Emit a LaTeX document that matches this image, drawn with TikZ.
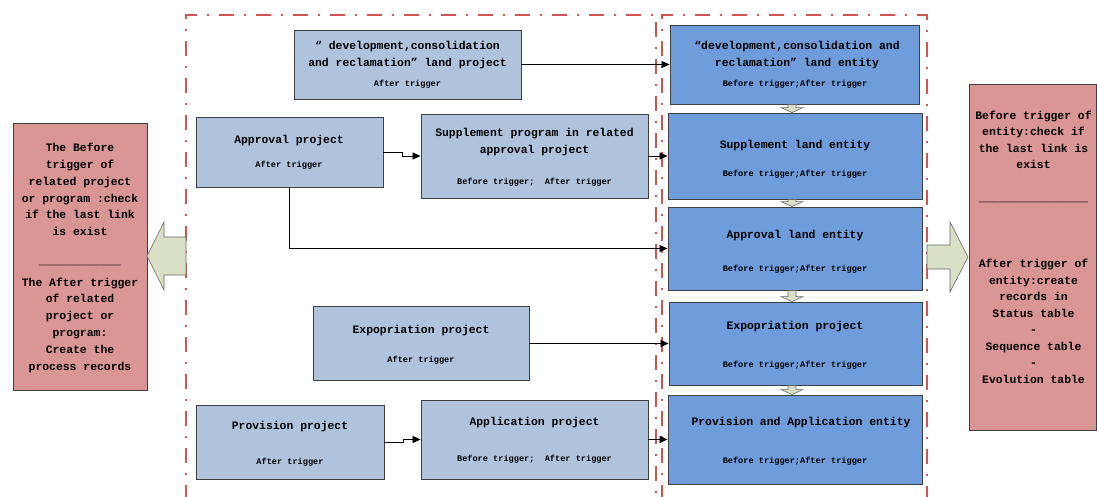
\documentclass[tikz,border=0pt]{standalone}
\usepackage{fontspec}
\setmainfont{Liberation Mono}
\usetikzlibrary{arrows.meta,calc}

\definecolor{projblue}{HTML}{B0C3DD}
\definecolor{entblue}{HTML}{6F9CDA}
\definecolor{notered}{HTML}{D99694}
\definecolor{arrowgreen}{HTML}{D8E0C6}
\definecolor{framered}{HTML}{D0544F}

\tikzset{
  projbox/.style={draw=black!75, fill=projblue, line width=0.9pt, inner sep=0pt},
  entbox/.style={draw=black!75, fill=entblue, line width=0.9pt, inner sep=0pt},
  notebox/.style={draw=black!75, fill=notered, line width=0.9pt, inner sep=0pt},
  boxtitle/.style={font=\fontsize{11.4}{16.8}\selectfont\bfseries, align=center, anchor=base, inner sep=0pt},
  trig/.style={font=\fontsize{8.6}{10}\selectfont\bfseries, anchor=base, inner sep=0pt},
  link/.style={-{Triangle[length=8pt,width=7pt]}, line width=0.8pt},
  dashframe/.style={framered, line width=1.5pt, dash pattern=on 15pt off 10pt on 2pt off 10pt},
  blockarrow/.style={fill=arrowgreen, draw=black!60, line width=0.6pt}
}

\begin{document}
\begin{tikzpicture}[x=1pt,y=-1pt]

    \useasboundingbox (0,0) rectangle (1097,496);

    % Draw the two dash-dot frames
    \draw[dashframe] (186,500) -- (186,15) -- (656,15) -- (656,500);
    \draw[dashframe] (662,500) -- (662,15) -- (927,15) -- (927,500);

    % Draw the project boxes
    \node[projbox, minimum width=227pt, minimum height=69pt] (devproj) at (407.5,64.5) {};
    \node[projbox, minimum width=187pt, minimum height=70pt] (approval) at (289.5,152) {};
    \node[projbox, minimum width=227pt, minimum height=84pt] (supprog) at (534.5,156) {};
    \node[projbox, minimum width=216pt, minimum height=74pt] (expoproj) at (421,343.5) {};
    \node[projbox, minimum width=188pt, minimum height=74pt] (provproj) at (290,442) {};
    \node[projbox, minimum width=227pt, minimum height=79pt] (appproj) at (534.5,439.5) {};

    % Draw the entity boxes
    \node[entbox, minimum width=249pt, minimum height=79pt] (devent) at (794.5,64.5) {};
    \node[entbox, minimum width=254pt, minimum height=86pt] (suppent) at (795,156) {};
    \node[entbox, minimum width=254pt, minimum height=83pt] (apprent) at (795,248.5) {};
    \node[entbox, minimum width=253pt, minimum height=83pt] (expoent) at (795.5,343.5) {};
    \node[entbox, minimum width=254pt, minimum height=89pt] (provent) at (795,439.5) {};

    % Draw the trigger notes
    \node[notebox, minimum width=134pt, minimum height=267pt] (leftnote) at (80,256.5) {};
    \node[notebox, minimum width=127pt, minimum height=346pt] (rightnote) at (1032.5,257) {};

    % Texts of the project boxes (base = last line)
    \node[boxtitle] (devprojtitle) at (407.5,66) {“ development,consolidation\\and reclamation” land project};
    \node[trig] (devprojtrig) at (407.5,86) {After trigger};
    \node[boxtitle] (approvaltitle) at (289,143) {Approval project};
    \node[trig] (approvaltrig) at (289,167) {After trigger};
    \node[boxtitle] (supprogtitle) at (534.5,153) {Supplement program in related\\approval project};
    \node[trig] (supprogtrig) at (534.5,184) {Before trigger;~~After trigger};
    \node[boxtitle] (expoprojtitle) at (421,333) {Expopriation project};
    \node[trig] (expoprojtrig) at (421,362) {After trigger};
    \node[boxtitle] (provprojtitle) at (290,429) {Provision project};
    \node[trig] (provprojtrig) at (290,464) {After trigger};
    \node[boxtitle] (appprojtitle) at (534.5,425) {Application project};
    \node[trig] (appprojtrig) at (534.5,461) {Before trigger;~~After trigger};

    % Texts of the entity boxes
    \node[boxtitle] (denttitle) at (797,66) {“development,consolidation and\\reclamation” land entity};
    \node[trig] (denttrig) at (795,86) {Before trigger;After trigger};
    \node[boxtitle] (senttitle) at (795,148) {Supplement land entity};
    \node[trig] (senttrig) at (795,176) {Before trigger;After trigger};
    \node[boxtitle] (aenttitle) at (795,238) {Approval land entity};
    \node[trig] (aenttrig) at (795,271) {Before trigger;After trigger};
    \node[boxtitle] (eenttitle) at (795,329) {Expopriation project};
    \node[trig] (eenttrig) at (795,367) {Before trigger;After trigger};
    \node[boxtitle] (penttitle) at (801,425) {Provision and Application entity};
    \node[trig] (penttrig) at (795,463) {Before trigger;After trigger};

    % Texts of the notes
    \node[boxtitle] (leftnotetext) at (80,370) {The Before\\trigger of\\related project\\or program :check\\if the last link\\is exist\\~\\[-5pt]\_\_\_\_\_\_\_\_\_\_\_\_\\[5pt]The After trigger\\of related\\project or\\program:\\Create the\\process records};
    \node[boxtitle, font=\fontsize{11.4}{16.5}\selectfont\bfseries] (rightnotetext) at (1033.5,383) {Before trigger of\\entity:check if\\the last link is\\exist\\~\\\_\_\_\_\_\_\_\_\_\_\_\_\_\_\_\_\\~\\~\\~\\After trigger of\\entity:create\\records in\\Status table\\-\\Sequence table\\-\\Evolution table};

    % Draw the big block arrows
    \draw[blockarrow] (186,237) -- (164,237) -- (164,222) -- (147,256) -- (164,290) -- (164,275) -- (186,275) -- cycle;
    \draw[blockarrow] (927,245) -- (950,245) -- (950,222) -- (968,257) -- (950,292) -- (950,269) -- (927,269) -- cycle;

    % Draw the small arrows between the entities
    \coordinate (ax) at (792,0);
    \foreach \a/\b in {devent/suppent,suppent/apprent,apprent/expoent,expoent/provent}
      \draw[blockarrow] let \p1=(ax |- \a.south), \p2=(ax |- \b.north) in
        ({\x1-4pt},\y1) -- ({\x1+4pt},\y1) -- ({\x1+4pt},{\y2+5pt}) -- ({\x1+11pt},{\y2+5pt})
        -- (\x1,\y2) -- ({\x1-11pt},{\y2+5pt}) -- ({\x1-4pt},{\y2+5pt}) -- cycle;

    % Draw the links
    \draw[link] (devproj.east) -- (devent.west);
    \draw[link] (approval.east) -- ++(19,0) |- (supprog.west);
    \draw[link] (supprog.east) -- (suppent.west);
    \draw[link] (approval.south) |- (apprent.west);
    \draw[link] (expoproj.east) -- (expoent.west);
    \draw[link] (provproj.east) -- ++(19,0) |- (appproj.west);
    \draw[link] (appproj.east) -- (provent.west);

\end{tikzpicture}
\end{document}
